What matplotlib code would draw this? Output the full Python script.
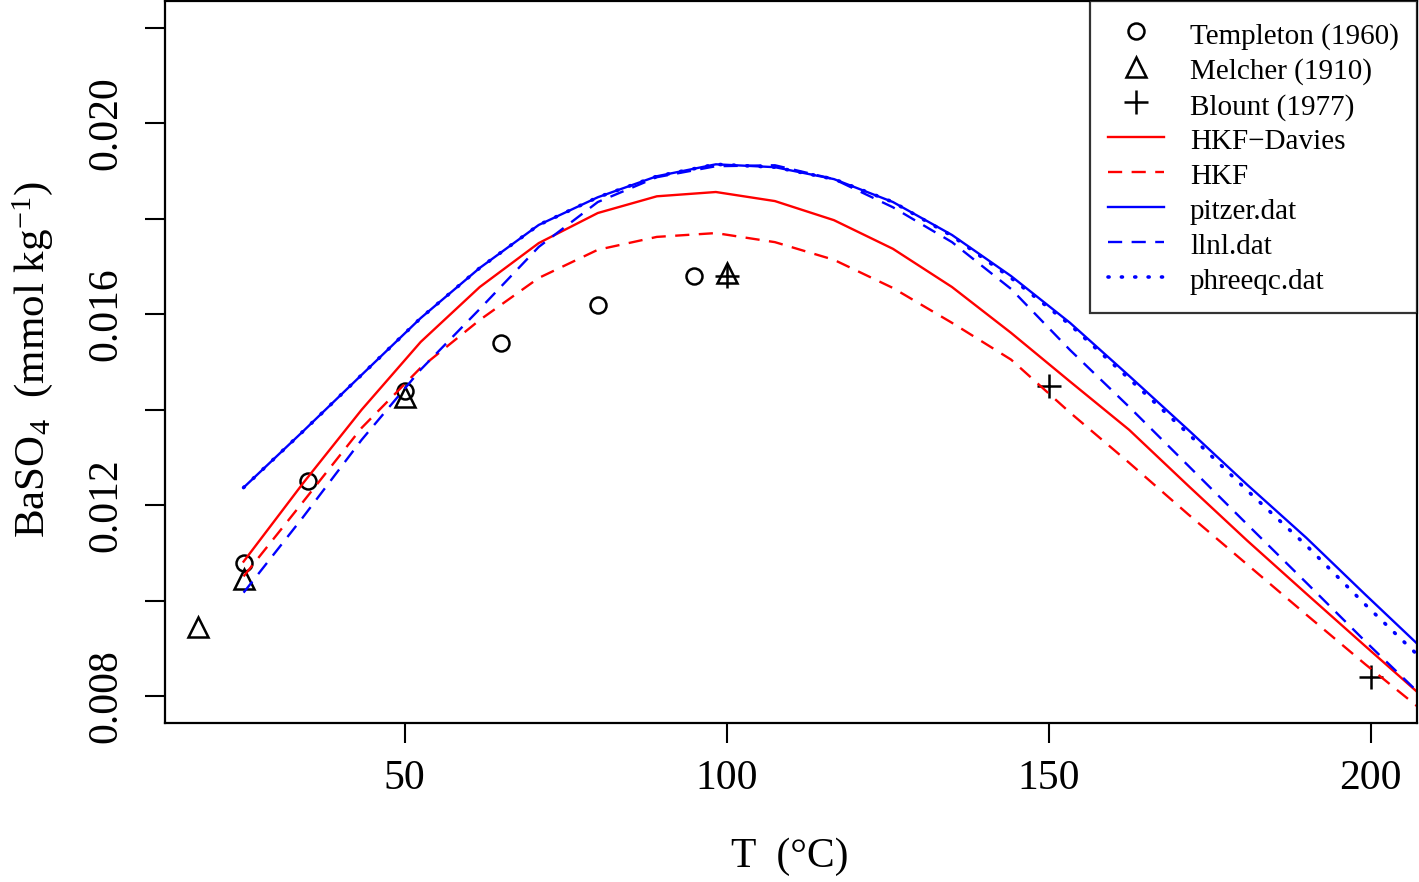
import matplotlib
matplotlib.use("Agg")
import matplotlib.pyplot as plt

plt.rcParams['font.family'] = ['Liberation Serif', 'DejaVu Serif']
plt.rcParams['mathtext.fontset'] = 'custom'
plt.rcParams['mathtext.rm'] = 'Liberation Serif'
plt.rcParams['mathtext.it'] = 'Liberation Serif:italic'

# temperatures of the calculated curves (degC)
T = [25, 34.17, 43.33, 52.5, 61.67, 70.83, 80, 89.17, 98.33, 107.5, 116.67,
     125.83, 135, 144.17, 153.33, 162.5, 171.67, 180.83, 190, 199.17, 208.33]

hkf_davies = [0.01082, 0.01245, 0.01400, 0.01542, 0.01657, 0.01749, 0.01812,
              0.01847, 0.01856, 0.01837, 0.01797, 0.01737, 0.01657, 0.01561,
              0.01459, 0.01358, 0.01241, 0.01126, 0.01015, 0.00905, 0.00796]
hkf = [0.01051, 0.01206, 0.01362, 0.01488, 0.01588, 0.01676, 0.01735,
       0.01762, 0.01770, 0.01751, 0.01714, 0.01655, 0.01582, 0.01505,
       0.01394, 0.01289, 0.01181, 0.01076, 0.00971, 0.00867, 0.00767]
pitzer = [0.01237, 0.01354, 0.01473, 0.01592, 0.01697, 0.01787, 0.01845,
          0.01889, 0.01914, 0.01908, 0.01883, 0.01835, 0.01766, 0.01680,
          0.01582, 0.01471, 0.01358, 0.01243, 0.01132, 0.01013, 0.00896]
llnl = [0.01017, 0.01174, 0.01337, 0.01484, 0.01611, 0.01741, 0.01835,
        0.01887, 0.01910, 0.01912, 0.01883, 0.01824, 0.01751, 0.01653,
        0.01525, 0.01406, 0.01283, 0.01160, 0.01038, 0.00915, 0.00796]
phreeqc = [0.01237, 0.01354, 0.01473, 0.01592, 0.01697, 0.01787, 0.01845,
           0.01889, 0.01914, 0.01908, 0.01883, 0.01835, 0.01764, 0.01676,
           0.01578, 0.01465, 0.01350, 0.01231, 0.01116, 0.00992, 0.00873]

# experimental data
templeton_T = [25, 35, 50, 65, 80, 95]
templeton = [0.0108, 0.0125, 0.0144, 0.0154, 0.0162, 0.0168]
melcher_T = [18, 25, 50, 100]
melcher = [0.00944, 0.01045, 0.01427, 0.01686]
blount_T = [100, 150, 200]
blount = [0.0168, 0.0145, 0.0084]

fig = plt.figure(figsize=(14.19, 8.82), dpi=100)
ax = fig.add_axes([165 / 1419, 159 / 882, 1252 / 1419, 722 / 882])

ax.plot(templeton_T, templeton, 'o', ms=11.5, mfc='none', mec='black', mew=1.8,
        label='Templeton (1960)', clip_on=False)
ax.plot(melcher_T, melcher, '^', ms=14, mfc='none', mec='black', mew=1.8,
        label='Melcher (1910)', clip_on=False)
ax.plot(blount_T, blount, '+', ms=17, mec='black', mew=1.8,
        label='Blount (1977)', clip_on=False)

ax.plot(T, hkf_davies, color='#ff0000', lw=1.7, label='HKF\u2212Davies')
ax.plot(T, hkf, color='#ff0000', lw=1.7, ls=(0, (6, 4)), label='HKF')
ax.plot(T, pitzer, color='#0000ff', lw=1.7, label='pitzer.dat')
ax.plot(T, llnl, color='#0000ff', lw=1.7, ls=(0, (6, 4)), label='llnl.dat')
ax.plot(T, phreeqc, color='#0000ff', lw=2.6, ls=(0, (0.3, 3.4)),
        dash_capstyle='round', label='phreeqc.dat')

ax.set_xlim(12.8, 207.2)
ax.set_ylim(0.00744, 0.02256)
ax.set_xticks([50, 100, 150, 200])
yt = [0.008, 0.010, 0.012, 0.014, 0.016, 0.018, 0.020, 0.022]
ax.set_yticks(yt)
ax.set_yticklabels(['0.008', '', '0.012', '', '0.016', '', '0.020', ''],
                   rotation=90, va='center')
ax.tick_params(axis='both', direction='out', length=14.5, width=1.5,
               labelsize=30, pad=12)
ax.tick_params(axis='y', pad=14)
for s in ax.spines.values():
    s.set_linewidth(1.6)

fig.text(33 / 1419, 1 - 360 / 882, 'BaSO$_4$  (mmol kg$^{-1}$)', fontsize=31,
         rotation=90, ha='center', va='center')
fig.text(790 / 1419, 1 - 857 / 882, 'T  (\u00b0C)', fontsize=30,
         ha='center', va='center')

leg = ax.legend(loc='upper right', borderaxespad=0, fontsize=21,
                frameon=True, fancybox=False, edgecolor='black',
                handlelength=1.9, handleheight=1.2, handletextpad=0.9,
                labelspacing=0.14, borderpad=0.62, numpoints=1)
leg.get_frame().set_linewidth(1.6)

fig.savefig('out.png', dpi=100)
